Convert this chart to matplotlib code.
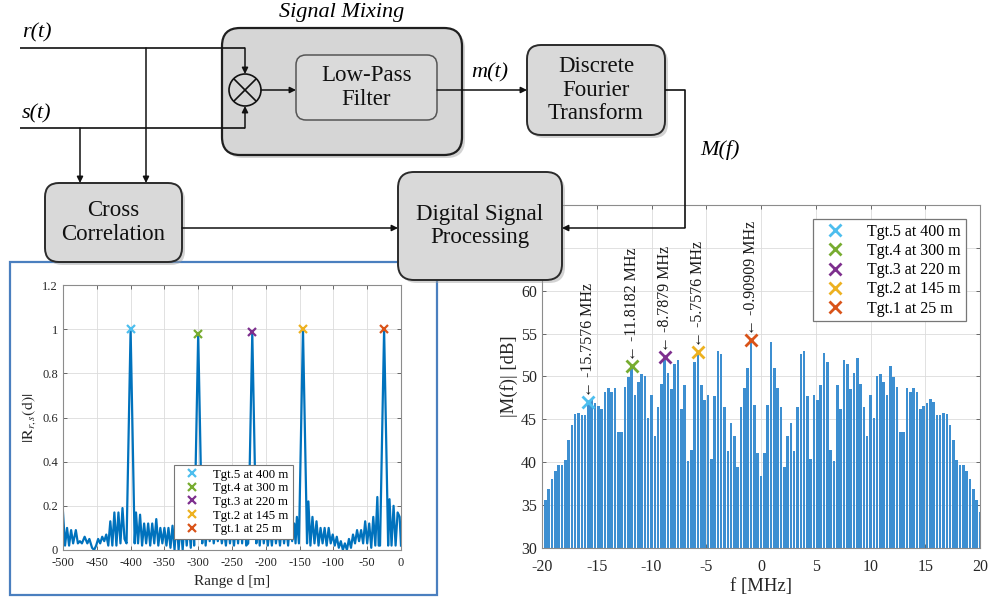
import matplotlib
matplotlib.use('Agg')
import matplotlib.pyplot as plt
from matplotlib.patches import FancyBboxPatch, Circle, Rectangle
import numpy as np

plt.rcParams['font.family'] = ['Liberation Serif', 'DejaVu Serif']
plt.rcParams['mathtext.fontset'] = 'stix'
plt.rcParams['axes.unicode_minus'] = False

# targets
tgt_labels = ['Tgt.5 at 400 m', 'Tgt.4 at 300 m', 'Tgt.3 at 220 m', 'Tgt.2 at 145 m', 'Tgt.1 at 25 m']
tgt_colors = ['#4DBEEE', '#77AC30', '#7E2F8E', '#EDB120', '#D95319']
tgt_range = [-400, -300, -220, -145, -25]
tgt_corr = [1.0, 0.98, 0.985, 1.0, 1.0]
tgt_freq = [-15.7576, -11.8182, -8.7879, -5.7576, -0.90909]
tgt_db = [47.0, 51.2, 52.3, 52.8, 54.2]
tgt_freq_text = ['-15.7576 MHz', '-11.8182 MHz', '-8.7879 MHz', '-5.7576 MHz', '-0.90909 MHz']

# cross correlation |R_rs(d)| (vertices)
corr_d = [-500, -497, -494, -491, -488, -485, -481, -478, -475, -472, -468, -464, -461, -457, -454,
          -451, -448, -445, -442, -439, -436, -433, -430, -427, -424, -421, -418, -415, -412, -409,
          -406, -400, -394, -392, -389, -386, -383, -380, -377, -374, -371, -368, -365, -362, -359,
          -356, -353, -350, -347, -344, -341, -338, -335, -332, -329, -326, -323, -320, -317, -314,
          -311, -308, -306, -300, -294, -292, -289, -286, -283, -280, -277, -274, -271, -268, -265,
          -262, -259, -256, -253, -250, -247, -244, -241, -238, -235, -232, -229, -226, -220, -214,
          -212, -209, -206, -203, -200, -197, -194, -191, -188, -185, -182, -179, -176, -173, -170,
          -167, -164, -161, -158, -156, -154, -151, -145, -139, -137, -134, -131, -128, -125, -122,
          -119, -116, -113, -110, -107, -104, -101, -98, -95, -92, -89, -86, -83, -80, -77,
          -74, -71, -68, -65, -62, -59, -56, -53, -50, -47, -44, -41, -38, -35, -33,
          -31, -25, -19, -17, -14, -11, -8, -5, -2, 0]
corr_v = [0.17, 0.02, 0.10, 0.02, 0.09, 0.03, 0.09, 0.03, 0.04, 0.03, 0.06, 0.03, 0.05, 0.01, 0.00,
          0.02, 0.05, 0.03, 0.06, 0.04, 0.07, 0.02, 0.13, 0.02, 0.17, 0.02, 0.17, 0.03, 0.19, 0.05,
          0.03, 1.00, 0.03, 0.17, 0.03, 0.16, 0.02, 0.12, 0.03, 0.12, 0.02, 0.12, 0.03, 0.14, 0.02,
          0.10, 0.03, 0.10, 0.02, 0.10, 0.01, 0.11, 0.00, 0.14, 0.00, 0.12, 0.00, 0.14, 0.02, 0.13,
          0.01, 0.19, 0.02, 0.98, 0.03, 0.19, 0.02, 0.13, 0.04, 0.12, 0.03, 0.10, 0.04, 0.10, 0.03,
          0.09, 0.02, 0.12, 0.03, 0.10, 0.02, 0.13, 0.03, 0.16, 0.03, 0.19, 0.02, 0.03, 0.985, 0.03,
          0.19, 0.02, 0.13, 0.03, 0.11, 0.02, 0.10, 0.02, 0.12, 0.03, 0.10, 0.02, 0.12, 0.03, 0.11,
          0.02, 0.13, 0.04, 0.12, 0.03, 0.15, 0.03, 1.00, 0.03, 0.22, 0.02, 0.15, 0.03, 0.13, 0.02,
          0.10, 0.03, 0.10, 0.02, 0.10, 0.03, 0.07, 0.02, 0.06, 0.01, 0.04, 0.00, 0.03, 0.00, 0.05,
          0.01, 0.07, 0.03, 0.09, 0.04, 0.09, 0.03, 0.13, 0.03, 0.12, 0.01, 0.15, 0.02, 0.24, 0.02,
          0.02, 1.00, 0.02, 0.23, 0.02, 0.20, 0.02, 0.17, 0.15, 0.02]

# |M(f)| in dB, one value per DFT bin from -20 MHz to 20 MHz
spec_db = [34.2, 35.6, 36.9, 38.0, 39.0, 39.7, 39.7, 40.3, 42.6, 44.4, 45.6, 45.7, 45.5, 45.5, 47.0,
           47.4, 46.9, 46.6, 46.2, 48.2, 48.7, 48.2, 48.7, 43.5, 43.5, 48.8, 49.9, 51.2, 47.8, 49.4,
           50.3, 50.1, 45.2, 47.8, 43.1, 46.5, 49.1, 52.2, 50.4, 48.5, 51.4, 51.9, 46.2, 49.0, 40.2,
           41.4, 51.7, 52.7, 49.0, 47.3, 47.8, 40.4, 47.7, 53.0, 52.6, 46.4, 41.3, 44.6, 43.1, 39.5,
           46.5, 48.7, 51.0, 54.0, 46.7, 41.1, 38.4, 41.1, 46.7, 54.0, 51.0, 48.7, 46.5, 39.5, 43.1,
           44.6, 41.3, 46.4, 52.6, 53.0, 47.7, 40.4, 47.8, 47.3, 49.0, 52.7, 51.7, 41.4, 40.2, 49.0,
           46.2, 51.9, 51.4, 48.5, 50.4, 52.2, 49.1, 46.5, 43.1, 47.8, 45.2, 50.1, 50.3, 49.4, 47.8,
           51.2, 49.9, 48.8, 43.5, 43.5, 48.7, 48.2, 48.7, 48.2, 46.2, 46.6, 46.9, 47.4, 47.0, 45.5,
           45.5, 45.7, 45.6, 44.4, 42.6, 40.3, 39.7, 39.7, 39.0, 38.0, 36.9, 35.6, 34.2]
spec_f = np.linspace(-20, 20, len(spec_db))

W, H = 990, 603
fig = plt.figure(figsize=(W / 100, H / 100), dpi=100)

def px_axes(x0, y0, x1, y1):
    return fig.add_axes([x0 / W, 1 - y1 / H, (x1 - x0) / W, (y1 - y0) / H])

def style_axes(ax, size):
    ax.grid(True, color='#dcdcdc', lw=0.6)
    ax.set_axisbelow(True)
    ax.tick_params(direction='in', top=True, right=True, length=3, width=0.6,
                   labelsize=size, colors='#555555', labelcolor='#262626')
    for s in ax.spines.values():
        s.set_color('#8c8c8c')
        s.set_linewidth(0.8)

# left: cross correlation
ax_l = px_axes(63, 285, 401, 550)
ax_l.plot(corr_d, corr_v, color='#0072BD', lw=1.6, zorder=2)
for d, v, c, lab in zip(tgt_range, tgt_corr, tgt_colors, tgt_labels):
    ax_l.plot(d, v, 'x', color=c, ms=6, mew=1.6, ls='none', label=lab, zorder=3)
ax_l.set_xlim(-500, 0)
ax_l.set_ylim(0, 1.2)
ax_l.set_xticks(np.arange(-500, 1, 50))
ax_l.set_yticks([0, 0.2, 0.4, 0.6, 0.8, 1, 1.2])
ax_l.set_yticklabels(['0', '0.2', '0.4', '0.6', '0.8', '1', '1.2'])
style_axes(ax_l, 9)
ax_l.tick_params(axis='x', pad=5)
ax_l.set_xlabel('Range d [m]', fontsize=11, color='#262626', labelpad=4)
ax_l.set_ylabel(r'$|\mathrm{R}_{r,s}(\mathrm{d})|$', fontsize=11.5, color='#262626', labelpad=3)
leg = ax_l.legend(loc='lower left', bbox_to_anchor=(0.328, 0.042), fontsize=9.2, frameon=True,
                  fancybox=False, framealpha=1, edgecolor='#777777', handlelength=2.2,
                  handletextpad=0.6, labelspacing=0.12, borderpad=0.3, borderaxespad=0)
leg.get_frame().set_linewidth(0.8)

# right: spectrum
ax_r = px_axes(542, 205, 980, 548)
ax_r.bar(spec_f, spec_db, width=0.235, color='#3d8fd1', edgecolor='none', zorder=2)
for f, v, c, lab in zip(tgt_freq, tgt_db, tgt_colors, tgt_labels):
    ax_r.plot(f, v, 'x', color=c, ms=8, mew=2, ls='none', label=lab, zorder=3)
for f, v, t in zip(tgt_freq, tgt_db, tgt_freq_text):
    ax_r.text(f, v + 0.6, '\u2190 ' + t, rotation=90, ha='center', va='bottom',
              fontsize=11.5, color='#1a1a1a', zorder=4)
ax_r.set_xlim(-20, 20)
ax_r.set_ylim(30, 70)
ax_r.set_xticks(np.arange(-20, 21, 5))
ax_r.set_yticks(np.arange(30, 71, 5))
ax_r.set_yticklabels(['30', '35', '40', '45', '50', '55', '60', '', ''])
style_axes(ax_r, 11.5)
ax_r.tick_params(axis='x', pad=8)
ax_r.set_xlabel('f [MHz]', fontsize=13.5, color='#262626', labelpad=2)
ax_r.set_ylabel('|M(f)| [dB]', fontsize=13.5, color='#262626', labelpad=2)
leg = ax_r.legend(loc='upper right', bbox_to_anchor=(0.968, 0.959), fontsize=11.5, frameon=True,
                  fancybox=False, framealpha=1, edgecolor='#777777', handlelength=2.2,
                  handletextpad=0.9, labelspacing=0.2, borderpad=0.3, borderaxespad=0)
leg.get_frame().set_linewidth(0.9)

# block diagram overlay in pixel coordinates
ax_d = fig.add_axes([0, 0, 1, 1], zorder=10)
ax_d.set_xlim(0, W)
ax_d.set_ylim(H, 0)
ax_d.axis('off')
ax_d.patch.set_alpha(0)

ax_d.add_patch(Rectangle((10, 262), 427, 333, fill=False, ec='#4a7fbf', lw=1.6, zorder=1))

def box(x0, y0, x1, y1, text='', fc='#d9d9d9', ec='#2b2b2b', r=13, lw=1.4, z=3, shadow=True):
    if shadow:
        ax_d.add_patch(FancyBboxPatch((x0 + 3, y0 + 3), x1 - x0, y1 - y0,
                                      boxstyle=f'round,pad=0,rounding_size={r}',
                                      fc='#9f9f9f', ec='none', alpha=0.45, zorder=z - 0.5))
    ax_d.add_patch(FancyBboxPatch((x0, y0), x1 - x0, y1 - y0,
                                  boxstyle=f'round,pad=0,rounding_size={r}',
                                  fc=fc, ec=ec, lw=lw, zorder=z))
    if text:
        ax_d.text((x0 + x1) / 2, (y0 + y1) / 2, text, ha='center', va='center',
                  fontsize=16.5, linespacing=1.15, color='#111111', zorder=z + 1)

def arrow(x0, y0, x1, y1):
    ax_d.annotate('', xy=(x1, y1), xytext=(x0, y0), zorder=6,
                  arrowprops=dict(arrowstyle='-|>', color='#111111', lw=1.1,
                                  mutation_scale=9, shrinkA=0, shrinkB=0))

def line(xs, ys):
    ax_d.plot(xs, ys, color='#111111', lw=1.2, zorder=6, solid_capstyle='butt')

box(222, 28, 462, 155, fc='#d6d6d6', ec='#1f1f1f', r=18, lw=1.6)
box(296, 55, 437, 120, 'Low-Pass\nFilter', fc='#dadada', ec='#555555', r=10, lw=1.1, z=4, shadow=False)
box(527, 45, 665, 135, 'Discrete\nFourier\nTransform', r=14)
box(45, 183, 182, 262, 'Cross\nCorrelation', r=14)
box(398, 172, 562, 280, 'Digital Signal\nProcessing', r=16)

ax_d.text(342, 13, 'Signal Mixing', ha='center', va='center', fontsize=16, style='italic', zorder=7)
ax_d.text(22, 33, 'r(t)', ha='left', va='center', fontsize=16, style='italic', zorder=7)
ax_d.text(22, 114, 's(t)', ha='left', va='center', fontsize=16, style='italic', zorder=7)
ax_d.text(490, 73, 'm(t)', ha='center', va='center', fontsize=16, style='italic', zorder=7)
ax_d.text(720, 150, 'M(f)', ha='center', va='center', fontsize=16, style='italic', zorder=7)

# mixer
cx, cy, rr = 245, 90, 16
ax_d.add_patch(Circle((cx, cy), rr, fc='#d6d6d6', ec='#111111', lw=1.2, zorder=6))
k = rr * 0.707
line([cx - k, cx + k], [cy - k, cy + k])
line([cx - k, cx + k], [cy + k, cy - k])

# signal paths
line([20, cx], [48, 48])
arrow(cx, 48, cx, cy - rr)
line([20, cx], [128, 128])
arrow(cx, 128, cx, cy + rr)
arrow(146, 48, 146, 183)
arrow(80, 128, 80, 183)
arrow(cx + rr, cy, 296, cy)
arrow(437, cy, 527, cy)
line([665, 685, 685], [cy, cy, 228])
arrow(685, 228, 562, 228)
arrow(182, 228, 398, 228)

fig.savefig('out.png', dpi=100)
